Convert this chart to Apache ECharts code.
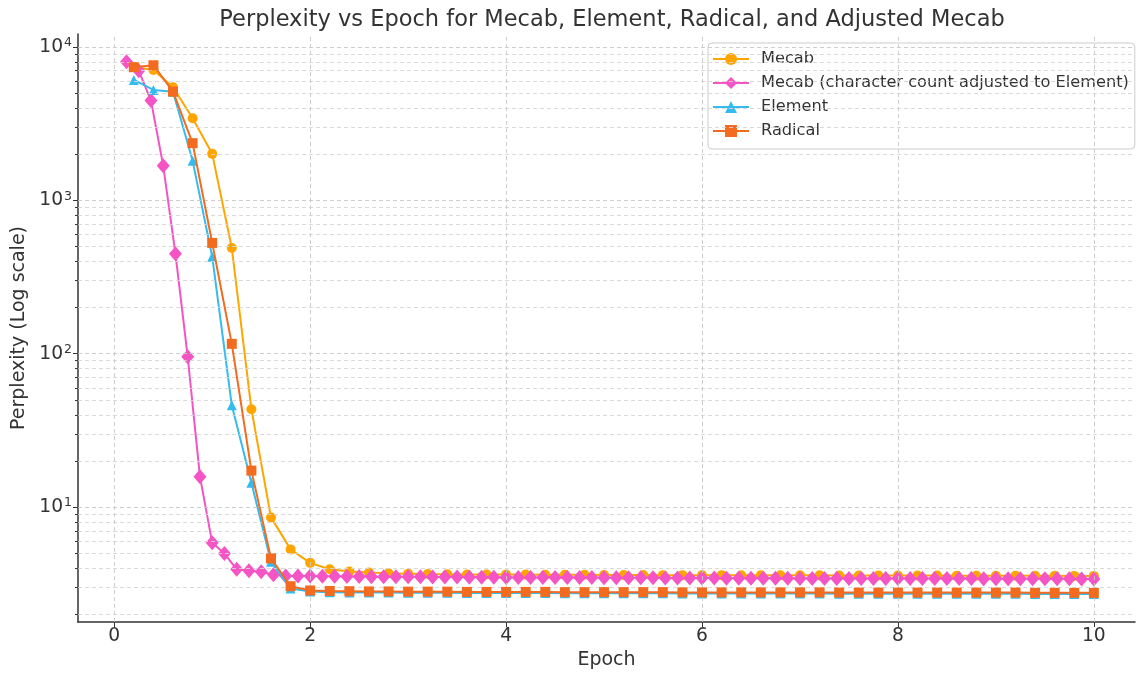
<!DOCTYPE html>
<html>
<head>
<meta charset="utf-8">
<script src="https://cdn.jsdelivr.net/npm/echarts@6/dist/echarts.min.js"></script>
<style>
html,body{margin:0;padding:0;background:#fff;}
#chart{width:1136px;height:675px;}
</style>
</head>
<body>
<div id="chart"></div>
<script>
// ---------- data ----------
const epochs = [0.2,0.4,0.6,0.8,1.0,1.2,1.4,1.6,1.8,2.0,
  2.2,2.4,2.6,2.8,3.0,3.2,3.4,3.6,3.8,4.0,
  4.2,4.4,4.6,4.8,5.0,5.2,5.4,5.6,5.8,6.0,
  6.2,6.4,6.6,6.8,7.0,7.2,7.4,7.6,7.8,8.0,
  8.2,8.4,8.6,8.8,9.0,9.2,9.4,9.6,9.8,10.0];

const epochsAdjusted = [0.125,0.25,0.375,0.5,0.625,0.75,0.875,1.0,1.125,1.25,
  1.375,1.5,1.625,1.75,1.875,2.0,2.125,2.25,2.375,2.5,
  2.625,2.75,2.875,3.0,3.125,3.25,3.375,3.5,3.625,3.75,
  3.875,4.0,4.125,4.25,4.375,4.5,4.625,4.75,4.875,5.0,
  5.125,5.25,5.375,5.5,5.625,5.75,5.875,6.0,6.125,6.25,
  6.375,6.5,6.625,6.75,6.875,7.0,7.125,7.25,7.375,7.5,
  7.625,7.75,7.875,8.0,8.125,8.25,8.375,8.5,8.625,8.75,
  8.875,9.0,9.125,9.25,9.375,9.5,9.625,9.75,9.875,10.0];

const mecab = [7400,7080,5460,3430,2010,489,43.5,8.57,5.30,4.33,
  3.93,3.80,3.74,3.70,3.68,3.66,3.65,3.64,3.64,3.63,
  3.63,3.62,3.62,3.62,3.61,3.61,3.61,3.60,3.60,3.60,
  3.60,3.59,3.59,3.59,3.59,3.59,3.58,3.58,3.58,3.58,
  3.58,3.58,3.57,3.57,3.57,3.57,3.57,3.57,3.56,3.56];

const mecabAdjusted = [8020,7010,4470,1680,448,95.5,15.8,5.85,4.98,3.93,
  3.85,3.79,3.62,3.56,3.55,3.55,3.54,3.54,3.53,3.53,
  3.52,3.52,3.52,3.51,3.51,3.50,3.50,3.50,3.49,3.49,
  3.49,3.48,3.48,3.48,3.48,3.47,3.47,3.47,3.47,3.46,
  3.46,3.46,3.46,3.46,3.45,3.45,3.45,3.45,3.45,3.44,
  3.44,3.44,3.44,3.44,3.44,3.43,3.43,3.43,3.43,3.43,
  3.43,3.43,3.42,3.42,3.42,3.42,3.42,3.42,3.42,3.42,
  3.41,3.41,3.41,3.41,3.41,3.41,3.41,3.41,3.40,3.40];

const element = [6100,5250,5100,1810,429,46.1,14.4,4.40,2.95,2.82,
  2.79,2.78,2.77,2.77,2.76,2.76,2.76,2.75,2.75,2.75,
  2.75,2.75,2.74,2.74,2.74,2.74,2.74,2.74,2.73,2.73,
  2.73,2.73,2.73,2.73,2.73,2.73,2.72,2.72,2.72,2.72,
  2.72,2.72,2.72,2.72,2.72,2.72,2.71,2.71,2.71,2.71];

const radical = [7380,7600,5120,2360,528,116,17.3,4.63,3.05,2.86,
  2.84,2.83,2.82,2.82,2.81,2.81,2.81,2.80,2.80,2.80,
  2.80,2.80,2.79,2.79,2.79,2.79,2.79,2.79,2.78,2.78,
  2.78,2.78,2.78,2.78,2.78,2.78,2.77,2.77,2.77,2.77,
  2.77,2.77,2.77,2.77,2.77,2.77,2.76,2.76,2.76,2.76];

const xTicks = [0,2,4,6,8,10];
const yMajorTicks = [10,100,1000,10000];
const yMinorFactors = [2,3,4,5,6,7,8,9];
const seriesNames = ['Mecab','Mecab (character count adjusted to Element)','Element','Radical'];

// ---------- helpers ----------
const FONT = 'DejaVu Sans';
function pairs(xs, ys){ return xs.map((x,i)=>[x, ys[i]]); }

const yMinor = [];
[1,10,100,1000,10000].forEach(d => yMinorFactors.forEach(f => { const v = d*f; if (v < 12150 && v > 1.78) yMinor.push(v); }));

const gridLineData = [];
yMajorTicks.forEach(v => gridLineData.push({yAxis: v, lineStyle:{color:'#c8c8c8'}}));
yMinor.forEach(v => gridLineData.push({yAxis: v}));
xTicks.forEach(v => gridLineData.push({xAxis: v, lineStyle:{color:'#c8c8c8'}}));

const colors = ['#FFA500','#F554C4','#36BBEF','#F26B1E'];

const option = {
  animation: false,
  backgroundColor: '#ffffff',
  title: {
    text: 'Perplexity vs Epoch for Mecab, Element, Radical, and Adjusted Mecab',
    left: 607, top: 4, textAlign: 'center',
    textStyle: {fontFamily: FONT, fontSize: 22.5, fontWeight: 'normal', color: '#333'}
  },
  grid: {left: 78, right: 1, top: 34, bottom: 53, containLabel: false},
  legend: {
    orient: 'vertical', left: 708, top: 43,
    data: seriesNames,
    itemWidth: 36, itemHeight: 15, itemGap: 8,
    padding: [8, 6, 10, 4],
    borderColor: '#cccccc', borderWidth: 1, borderRadius: 4,
    backgroundColor: 'rgba(255,255,255,0.85)',
    textStyle: {fontFamily: FONT, fontSize: 16.2, color: '#333', lineHeight: 14, padding: [0,0,0,7]}
  },
  xAxis: {
    type: 'value', min: -0.37, max: 10.42,
    name: 'Epoch', nameLocation: 'middle', nameGap: 29,
    nameTextStyle: {fontFamily: FONT, fontSize: 19, color: '#333'},
    axisLine: {show: true, onZero: false, lineStyle: {color: '#333', width: 1.5}},
    axisTick: {show: true, length: 5, customValues: xTicks, lineStyle: {color: '#333'}},
    axisLabel: {customValues: xTicks, fontFamily: FONT, fontSize: 18.7, color: '#333', margin: 5},
    splitLine: {show: false}
  },
  yAxis: [{
    type: 'log', logBase: 10, min: 1.782, max: 12150, position: 'left',
    name: 'Perplexity (Log scale)', nameLocation: 'middle', nameGap: 48.5, nameRotate: 90,
    nameTextStyle: {fontFamily: FONT, fontSize: 19, color: '#333'},
    axisLine: {show: true, onZero: false, lineStyle: {color: '#333', width: 1.5}},
    axisTick: {show: true, length: 5, customValues: yMajorTicks, lineStyle: {color: '#333'}},
    axisLabel: {
      customValues: yMajorTicks, margin: 6,
      fontFamily: FONT, fontSize: 18.7, color: '#333',
      formatter: v => '10{s|' + Math.round(Math.log10(v)) + '}',
      rich: {s: {fontFamily: FONT, fontSize: 12.5, color: '#333', verticalAlign: 'top', padding: [0,0,8,1]}}
    },
    splitLine: {show: false}
  },{
    type: 'log', logBase: 10, min: 1.782, max: 12150, position: 'left', offset: 0,
    axisLine: {show: false, onZero: false},
    axisTick: {show: true, length: 3, customValues: yMinor, lineStyle: {color: '#333'}},
    axisLabel: {show: false},
    splitLine: {show: false}
  }],
  series: [
    {
      type: 'line', name: '_grid', data: [], silent: true, z: 0,
      markLine: {
        silent: true, symbol: ['none','none'], label: {show: false},
        lineStyle: {color: '#d6d6d6', type: [4, 3], width: 0.9},
        data: gridLineData
      }
    },
    {
      type: 'line', name: seriesNames[0], data: pairs(epochs, mecab),
      color: colors[0], symbol: 'circle', symbolSize: 10, z: 2,
      lineStyle: {width: 2}, itemStyle: {color: colors[0], borderWidth: 0, opacity: 1}
    },
    {
      type: 'line', name: seriesNames[1], data: pairs(epochsAdjusted, mecabAdjusted),
      color: colors[1], symbol: 'diamond', symbolSize: [13, 15], z: 3,
      lineStyle: {width: 2}, itemStyle: {color: colors[1], borderWidth: 0}
    },
    {
      type: 'line', name: seriesNames[2], data: pairs(epochs, element),
      color: colors[2], symbol: 'triangle', symbolSize: 10, z: 4,
      lineStyle: {width: 2}, itemStyle: {color: colors[2], borderWidth: 0}
    },
    {
      type: 'line', name: seriesNames[3], data: pairs(epochs, radical),
      color: colors[3], symbol: 'rect', symbolSize: 10, z: 5,
      lineStyle: {width: 2}, itemStyle: {color: colors[3], borderWidth: 0}
    }
  ]
};

const chart = echarts.init(document.getElementById('chart'), null, {renderer: 'canvas'});
chart.setOption(option);
</script>
</body>
</html>
